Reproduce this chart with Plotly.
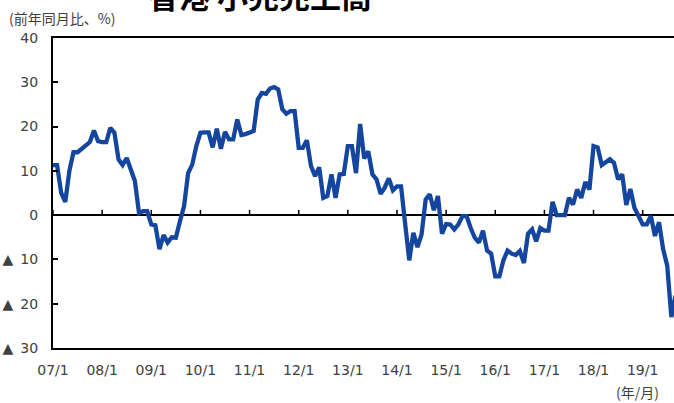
import plotly.graph_objects as go

months = [f"{2007 + i // 12}-{i % 12 + 1:02d}" for i in range(153)]

values = [
    11.3, 11.3, 5.0, 3.0, 10.0, 14.2, 14.2, 15.0, 15.6, 16.5, 19.1, 16.7,
    16.5, 16.5, 19.7, 18.6, 12.6, 11.3, 12.9, 9.9, 7.7, 0.5, 0.9, 0.9,
    -2.1, -2.3, -7.7, -4.5, -6.2, -5.0, -5.1, -1.4, 2.0, 9.5, 11.4, 15.6,
    18.6, 18.7, 18.7, 15.3, 19.5, 15.0, 18.8, 17.1, 17.1, 21.6, 18.1, 18.3,
    18.7, 19.0, 26.1, 27.6, 27.4, 28.6, 28.9, 28.4, 23.9, 22.9, 23.5, 23.5,
    15.2, 15.2, 16.9, 11.1, 8.8, 10.8, 3.9, 4.3, 9.2, 3.9, 9.2, 9.3,
    15.6, 15.6, 9.5, 20.6, 12.8, 14.4, 9.2, 8.1, 4.8, 6.2, 8.3, 5.6,
    6.5, 6.5, -2.0, -10.2, -4.0, -7.2, -4.4, 3.5, 4.7, 1.1, 4.3, -4.2,
    -2.0, -2.1, -3.2, -2.1, -0.2, -0.2, -2.9, -5.1, -6.2, -3.5, -8.0, -8.7,
    -13.8, -13.8, -10.2, -8.0, -8.7, -9.0, -8.1, -10.8, -4.2, -3.2, -5.9, -2.9,
    -3.5, -3.5, 3.0, 0.0, 0.0, 0.0, 3.9, 2.4, 5.8, 3.9, 7.5, 5.8,
    15.6, 15.3, 11.3, 12.0, 12.6, 11.8, 8.1, 9.2, 2.3, 5.9, 1.6, -0.2,
    -2.1, -2.1, -0.2, -4.7, -1.6, -7.7, -11.4, -23.0, -18.2,
]

x_tick_vals = [f"{y}-01" for y in range(2007, 2020)]
x_tick_text = [f"{y % 100:02d}/1" for y in range(2007, 2020)]
y_tick_vals = [40, 30, 20, 10, 0, -10, -20, -30]
y_tick_text = ["40", "30", "20", "10", "0", "▲\u200210", "▲\u200220", "▲\u200230"]

title_text = "香港 小売売上高"
y_unit = "(前年同月比、%)"
x_unit = "(年/月)"

font_main = "DejaVu Sans"
font_cjk = "Noto Sans CJK JP"

W, H = 674, 403
ML, MR, MT, MB = 53, 0, 38, 55
PW = W - ML - MR
PH = H - MT - MB

def px(x):
    return (x - ML) / PW

def py(y):
    return (H - MB - y) / PH

fig = go.Figure()
fig.add_trace(go.Scatter(
    x=months, y=values, mode="lines",
    line=dict(color="#1446a0", width=4.3),
    showlegend=False, hoverinfo="skip",
))

# zero-line tick marks (pointing up) at each January
for tv in x_tick_vals:
    fig.add_shape(type="line", xref="x", yref="y", x0=tv, x1=tv, y0=0, y1=1.2,
                  line=dict(color="black", width=1.5))

fig.update_xaxes(
    type="category",
    range=[0, 151.65],
    tickmode="array", tickvals=x_tick_vals, ticktext=x_tick_text,
    ticks="", showgrid=False, zeroline=False,
    showline=True, mirror=True, linecolor="black", linewidth=2,
    ticklabelstandoff=8,
    tickfont=dict(family=font_main, size=14, color="#404040"),
)
fig.update_yaxes(
    range=[-30, 40],
    tickmode="array", tickvals=y_tick_vals, ticktext=y_tick_text,
    ticks="inside", ticklen=5, tickwidth=1.5, tickcolor="black",
    showgrid=False, zeroline=True, zerolinecolor="black", zerolinewidth=2,
    showline=True, linecolor="black", linewidth=2,
    ticklabelstandoff=10,
    tickfont=dict(family=font_main, size=14, color="#404040"),
)

fig.add_annotation(text=title_text, xref="paper", yref="paper",
                   x=px(260), y=py(-6), xanchor="center", yanchor="middle",
                   showarrow=False,
                   font=dict(family=font_cjk, size=31, color="black", weight="bold"))
fig.add_annotation(text=y_unit, xref="paper", yref="paper",
                   x=px(7), y=py(18), xanchor="left", yanchor="middle",
                   showarrow=False,
                   font=dict(family=font_cjk, size=14, color="#404040"))
fig.add_annotation(text=x_unit, xref="paper", yref="paper",
                   x=px(661), y=py(392), xanchor="right", yanchor="middle",
                   showarrow=False,
                   font=dict(family=font_cjk, size=14, color="#404040"))

fig.update_layout(
    width=W, height=H,
    margin=dict(l=ML, r=MR, t=MT, b=MB),
    paper_bgcolor="white", plot_bgcolor="white",
)

fig.write_html(
    "out.html",
    config={"displayModeBar": False},
    post_script="document.body.style.margin='0';document.body.style.overflow='hidden';",
)
